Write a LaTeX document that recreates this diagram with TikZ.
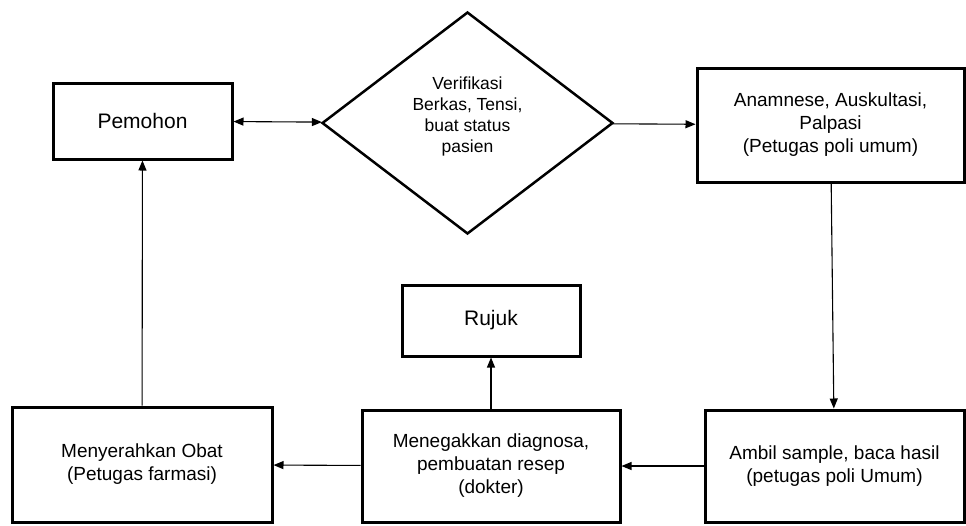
\documentclass[tikz,border=0pt]{standalone}
\usepackage{fontspec}
\setmainfont{Liberation Sans}
\usetikzlibrary{shapes.geometric,arrows.meta}

\begin{document}
\begin{tikzpicture}[x=1pt,y=-1pt,>={Triangle[length=10pt,width=8pt]}]
	\useasboundingbox (0,0) rectangle (966,525);
	\begin{scope}[font=\fontsize{19}{23}\selectfont]
		\begin{scope}[every node/.style={rectangle,draw,line width=3pt,align=center,inner sep=0pt}]
			\node[minimum width=179pt,minimum height=76pt,font=\fontsize{21}{24}\selectfont] (pemohon) at (142.5,121) {Pemohon};
			\node[minimum width=267pt,minimum height=114pt] (anam) at (830.5,125) {Anamnese, Auskultasi,\\Palpasi\\(Petugas poli umum)};
			\node[minimum width=259pt,minimum height=112pt] (ambil) at (834.5,466) {Ambil sample, baca hasil\\(petugas poli Umum)};
			\node[minimum width=258pt,minimum height=112pt] (diag) at (491,466) {Menegakkan diagnosa,\\pembuatan resep\\(dokter)};
			\node[minimum width=178pt,minimum height=71pt,font=\fontsize{21}{24}\selectfont] (rujuk) at (491,320.5) {Rujuk};
			\node[minimum width=260pt,minimum height=115pt] (obat) at (142,464.5) {Menyerahkan Obat\\(Petugas farmasi)};
		\end{scope}
		
		\node[diamond,draw,line width=2.5pt,minimum width=291pt,minimum height=222pt,align=center,inner sep=0pt,text depth=16pt,font=\fontsize{17.5}{21}\selectfont] (verif) at (467.5,123) {Verifikasi\\Berkas, Tensi,\\buat status\\pasien};
	
		\begin{scope}[line width=1.1pt]
			\path (pemohon) edge[<->] (verif);
			\path (verif) edge[->] (anam);
			\path (anam) edge[->] (ambil);
			\path (ambil) edge[->] (diag);
			\path (diag) edge[->] (obat);
			\path (diag) edge[->] (rujuk);
			\path (obat) edge[->] (pemohon);
		\end{scope}
	\end{scope}
\end{tikzpicture}
\end{document}
